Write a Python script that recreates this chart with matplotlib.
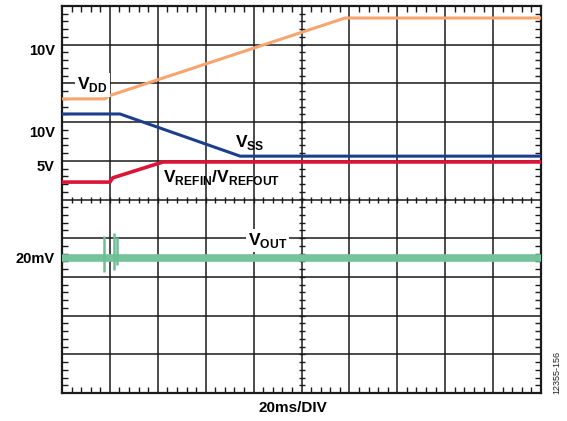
import numpy as np
import matplotlib.pyplot as plt
from matplotlib.ticker import MultipleLocator

plt.rcParams['font.family'] = ['Liberation Sans', 'DejaVu Sans']
plt.rcParams['mathtext.fontset'] = 'custom'
plt.rcParams['mathtext.bf'] = 'Liberation Sans:bold'
plt.rcParams['mathtext.rm'] = 'Liberation Sans:bold'

# traces, in divisions (10 x 10 screen)
vdd_x = [0, 0.90, 0.96, 5.91, 10]
vdd_y = [7.60, 7.60, 7.67, 9.69, 9.69]
vss_x = [0, 1.21, 3.72, 10]
vss_y = [7.21, 7.21, 6.12, 6.12]
vref_x = [0, 1.00, 1.06, 2.11, 10]
vref_y = [5.45, 5.45, 5.56, 5.97, 5.97]
vout_x = [0, 10]
vout_y = [3.49, 3.49]
spike_x = [0.88, 1.09, 1.15]
spike_top = [4.06, 4.13, 4.03]
spike_bot = [3.13, 3.18, 3.30]

ch_labels = ['10V', '10V', '5V', '20mV']
ch_label_y = [8.84, 6.72, 5.84, 3.46]

fig = plt.figure(figsize=(5.67, 4.21), dpi=100)
ax = fig.add_axes([62/567, 28/421, 479/567, 387/421])
ax.set_xlim(0, 10)
ax.set_ylim(0, 10)

grid_c = '#1a1a1a'
for i in range(1, 10):
    ax.axvline(i, color=grid_c, lw=1.1, zorder=1)
    ax.axhline(i, color=grid_c, lw=1.1, zorder=1)

# minor ticks on centre lines
mt = np.arange(0.2, 10, 0.2)
ax.plot(np.full_like(mt, 5), mt, ls='none', marker='_', ms=5, mew=1.0, color=grid_c, zorder=1)
ax.plot(mt, np.full_like(mt, 5), ls='none', marker='|', ms=5, mew=1.0, color=grid_c, zorder=1)

ax.xaxis.set_major_locator(MultipleLocator(1))
ax.yaxis.set_major_locator(MultipleLocator(1))
ax.xaxis.set_minor_locator(MultipleLocator(0.2))
ax.yaxis.set_minor_locator(MultipleLocator(0.2))
ax.tick_params(which='both', direction='in', top=True, right=True,
               labelbottom=False, labelleft=False, color=grid_c)
ax.tick_params(which='major', length=0)
ax.tick_params(which='minor', length=4, width=1.0)
for s in ax.spines.values():
    s.set_linewidth(1.6)
    s.set_color(grid_c)

ax.plot(vout_x, vout_y, color='#74c39b', lw=5.5, solid_capstyle='butt', zorder=3)
ax.vlines(spike_x, spike_bot, spike_top, color='#6cbf95', lw=1.8, zorder=3)
ax.plot(vdd_x, vdd_y, color='#f8a46e', lw=2.2, zorder=3)
ax.plot(vss_x, vss_y, color='#1b3f8c', lw=2.2, zorder=3)
ax.plot(vref_x, vref_y, color='#dc1439', lw=2.6, zorder=3)

for lab, y in zip(ch_labels, ch_label_y):
    ax.text(-0.15, y, lab, ha='right', va='center', fontsize=10.5,
            fontweight='bold', clip_on=False)

box = dict(facecolor='white', edgecolor='none', pad=1.5)
fs = 12.5
ax.text(0.31, 7.96, r'$\mathbf{V}_{\mathbf{DD}}$', fontsize=fs, va='center', ha='left',
        bbox=box, zorder=4)
ax.text(3.61, 6.46, r'$\mathbf{V}_{\mathbf{SS}}$', fontsize=fs, va='center', ha='left', zorder=4)
ax.text(2.11, 5.56, r'$\mathbf{V}_{\mathbf{REFIN}}\mathbf{/V}_{\mathbf{REFOUT}}$', fontsize=fs,
        va='center', ha='left', zorder=4)
ax.text(3.88, 3.95, r'$\mathbf{V}_{\mathbf{OUT}}$', fontsize=fs, va='center', ha='left',
        bbox=box, zorder=4)

fig.text(293/567, 1 - 408/421, '20ms/DIV', ha='center', va='center', fontsize=11,
         fontweight='bold')
fig.text(557/567, 1 - 372/421, '12355-156', ha='center', va='center', fontsize=6.5,
         rotation=90, color='#222222')

fig.savefig('out.png', dpi=100)
